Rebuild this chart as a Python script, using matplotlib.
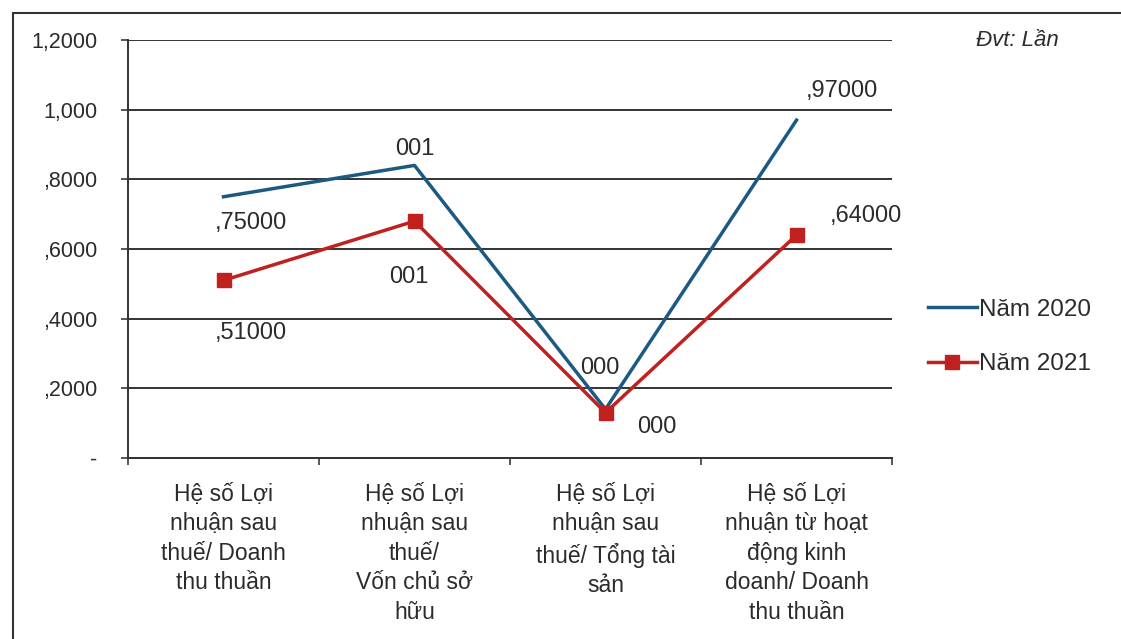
import matplotlib
matplotlib.use('Agg')
import matplotlib.pyplot as plt
from matplotlib.patches import Rectangle

plt.rcParams['font.family'] = ['Liberation Sans', 'DejaVu Sans']

categories = [
    'Hệ số Lợi\nnhuận sau\nthuế/ Doanh\nthu thuần',
    'Hệ số Lợi\nnhuận sau\nthuế/\nVốn chủ sở\nhữu',
    'Hệ số Lợi\nnhuận sau\nthuế/ Tổng tài\nsản',
    'Hệ số Lợi\nnhuận từ hoạt\nđộng kinh\ndoanh/ Doanh\nthu thuần',
]
values_2020 = [0.75, 0.84, 0.14, 0.97]
values_2021 = [0.51, 0.68, 0.13, 0.64]
labels_2020 = [',75000', '001', '000', ',97000']
labels_2021 = [',51000', '001', '000', ',64000']
y_ticks = [0, 0.2, 0.4, 0.6, 0.8, 1.0, 1.2]
y_tick_labels = ['-', ',2000', ',4000', ',6000', ',8000', '1,000', '1,2000']

# label offsets in points (x, y)
offsets_2020 = [(20, -19), (0, 12), (-4, 30), (33, 21)]
offsets_2021 = [(20, -38), (-4, -40), (37, -10), (50, 14)]

blue = '#1c5a82'
red = '#c0211f'
text_col = '#2b2b2b'

fig = plt.figure(figsize=(11.21, 6.39), dpi=100)
ax = fig.add_axes([128 / 1121, 1 - 458 / 639, (892 - 128) / 1121, (458 - 40) / 639])

x = list(range(len(categories)))
ax.plot(x, values_2020, color=blue, lw=2.5, label='Năm 2020')
ax.plot(x, values_2021, color=red, lw=2.5, marker='s', markersize=10, label='Năm 2021')

for i in x:
    ax.annotate(labels_2020[i], (i, values_2020[i]), xytext=offsets_2020[i], textcoords='offset points',
                ha='center', va='center', fontsize=17, color=text_col)
    ax.annotate(labels_2021[i], (i, values_2021[i]), xytext=offsets_2021[i], textcoords='offset points',
                ha='center', va='center', fontsize=17, color=text_col)

ax.set_xlim(-0.5, len(categories) - 0.5)
ax.set_ylim(0, 1.2)
ax.set_yticks(y_ticks)
ax.set_yticklabels(y_tick_labels, fontsize=15.5, color=text_col)
ax.yaxis.grid(True, color='#333333', lw=1.4)
ax.set_axisbelow(True)

ax.set_xticks(x)
ax.set_xticklabels(categories, fontsize=16.5, color=text_col, linespacing=1.36, va='top')
ax.set_xticks([i - 0.5 for i in range(len(categories) + 1)], minor=True)
ax.tick_params(axis='x', which='major', length=0, pad=18)
ax.tick_params(axis='x', which='minor', length=5, width=1.2, color='#3a3a3a', direction='out')
ax.tick_params(axis='y', length=5, width=1.2, color='#3a3a3a', direction='out', pad=17)

for s in ['top', 'right']:
    ax.spines[s].set_visible(False)
for s in ['left', 'bottom']:
    ax.spines[s].set_color('#333333')
    ax.spines[s].set_linewidth(1.4)

leg = ax.legend(loc='center left', bbox_to_anchor=(928 / 1121, 1 - 337 / 639), bbox_transform=fig.transFigure,
                frameon=False, fontsize=17.5, handlelength=2.0, handletextpad=0.1, labelspacing=1.35,
                borderpad=0, borderaxespad=0)
for t in leg.get_texts():
    t.set_color(text_col)

fig.text(1017 / 1121, 1 - 41 / 639, 'Đvt: Lần', fontsize=16, style='italic', ha='center', va='center',
         color=text_col)

# outer frame of the chart
fig.patches.append(Rectangle((13 / 1121, -0.1), 1.2, 1.1 - 13 / 639, transform=fig.transFigure,
                             fill=False, edgecolor='#333333', lw=1.5))

fig.savefig('out.png', dpi=100)
